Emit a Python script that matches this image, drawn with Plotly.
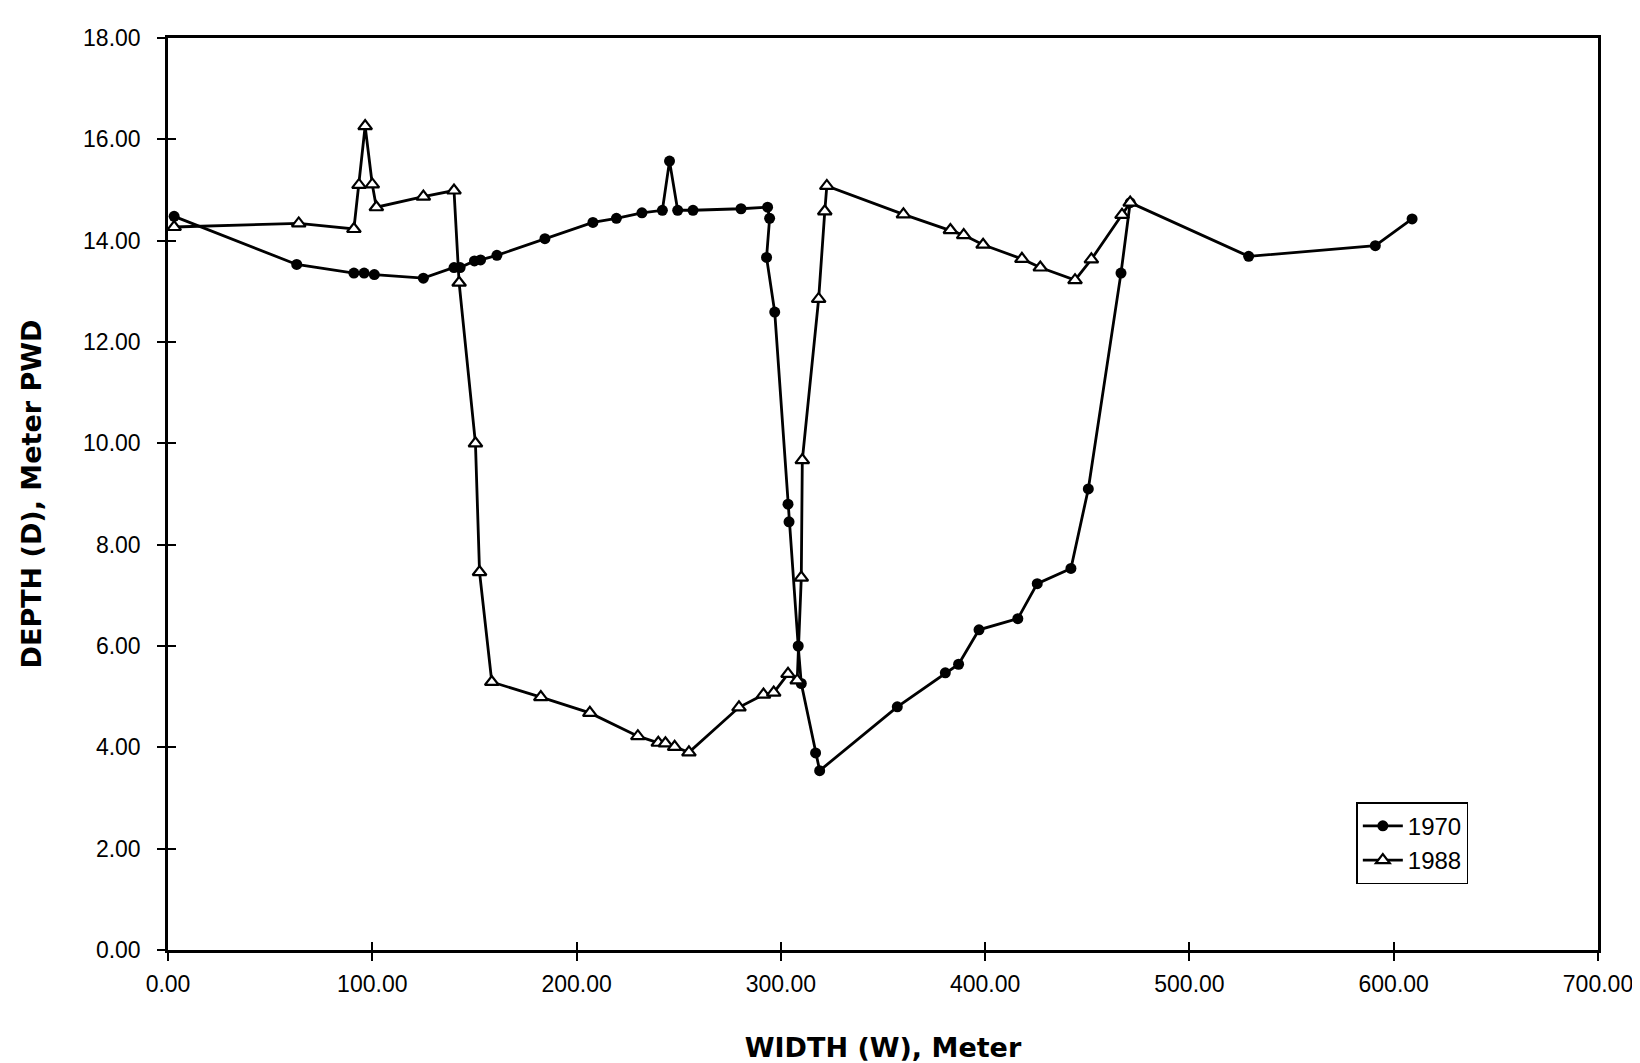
import plotly.graph_objects as go

# ---- data (deskewed) ----
w_1970 = [3, 63, 91, 96, 101, 125, 140, 143, 150, 153, 161, 184.5, 208, 219.5, 232, 242,
          245.5, 249.5, 257, 280.5, 293.5, 294.5, 293, 297, 303.5, 304, 308.5, 310, 317,
          319, 357, 380.5, 387, 397, 416, 425.5, 442, 450.5, 466.5, 471, 529, 591, 609]
d_1970 = [14.48, 13.53, 13.36, 13.36, 13.33, 13.26, 13.47, 13.47, 13.60, 13.62, 13.71,
          14.04, 14.36, 14.44, 14.55, 14.60, 15.57, 14.60, 14.60, 14.63, 14.66, 14.44,
          13.67, 12.59, 8.80, 8.45, 6.00, 5.26, 3.89, 3.54, 4.80, 5.47, 5.64, 6.32, 6.54,
          7.23, 7.53, 9.10, 13.36, 14.75, 13.69, 13.90, 14.43]

w_1988 = [3, 64, 91, 93.5, 96.5, 100, 102, 125, 140, 142.5, 150.5, 152.5, 158.5, 182.5,
          206.5, 230, 240, 243.5, 248, 255, 279.5, 291.5, 296.5, 303.5, 308, 310, 310.5,
          318.5, 321.5, 322.5, 360, 383, 389.5, 399, 418, 427, 444, 452, 467, 471]
d_1988 = [14.27, 14.34, 14.23, 15.10, 16.26, 15.11, 14.66, 14.87, 14.99, 13.17, 10.00,
          7.46, 5.29, 4.99, 4.68, 4.22, 4.09, 4.08, 4.01, 3.90, 4.79, 5.04, 5.08, 5.45,
          5.32, 7.35, 9.67, 12.85, 14.58, 15.08, 14.52, 14.21, 14.11, 13.92, 13.64, 13.47,
          13.22, 13.63, 14.51, 14.75]

x_ticks = [0, 100, 200, 300, 400, 500, 600, 700]
y_ticks = [0, 2, 4, 6, 8, 10, 12, 14, 16, 18]
x_title = "WIDTH (W), Meter"
y_title = "DEPTH (D), Meter PWD"
series_names = ["1970", "1988"]

TICK_FONT = dict(family="Liberation Sans, Arial, sans-serif", size=23, color="black")
TITLE_FONT = dict(family="DejaVu Sans, sans-serif", size=27, color="black", weight="bold")

fig = go.Figure()
fig.add_trace(go.Scatter(
    x=w_1970, y=d_1970, name=series_names[0], mode="lines+markers",
    line=dict(color="black", width=2.8),
    marker=dict(symbol="circle", size=11, color="black"),
))
fig.add_trace(go.Scatter(
    x=w_1988, y=d_1988, name=series_names[1], mode="lines+markers",
    line=dict(color="black", width=2.8),
    marker=dict(symbol="triangle-up", size=12, color="white",
                line=dict(color="black", width=2.2)),
))
# empty trace so the overlay axes (inner halves of the crossing ticks) are drawn
fig.add_trace(go.Scatter(x=[], y=[], xaxis="x2", yaxis="y2", showlegend=False,
                         hoverinfo="skip"))

fig.update_layout(
    width=1640, height=1063,
    margin=dict(l=160, r=50, t=30, b=121),
    paper_bgcolor="white", plot_bgcolor="white",
    showlegend=True,
    legend=dict(x=0.831, y=0.162, xanchor="left", yanchor="top",
                bgcolor="white", bordercolor="black", borderwidth=1.5,
                font=dict(family="Liberation Sans, Arial, sans-serif", size=24, color="black"),
                itemwidth=40, tracegroupgap=4),
    xaxis=dict(range=[0, 700], tickvals=x_ticks, tickformat=".2f",
               ticks="outside", ticklen=8, tickwidth=1.5, tickcolor="black",
               showline=True, linecolor="black", linewidth=2.5, mirror=True,
               showgrid=False, zeroline=False, tickfont=TICK_FONT,
               ticklabelstandoff=4,
               title=dict(text=x_title, font=TITLE_FONT, standoff=42)),
    yaxis=dict(range=[0, 18], tickvals=y_ticks, tickformat=".2f",
               ticks="outside", ticklen=8, tickwidth=1.5, tickcolor="black",
               showline=True, linecolor="black", linewidth=2.5, mirror=True,
               showgrid=False, zeroline=False, tickfont=TICK_FONT,
               ticklabelstandoff=12,
               title=dict(text=y_title, font=TITLE_FONT, standoff=34)),
    xaxis2=dict(range=[0, 700], tickvals=x_ticks, overlaying="x", anchor="y",
                side="bottom", ticks="inside", ticklen=8, tickwidth=1.5,
                tickcolor="black", showticklabels=False, showgrid=False,
                zeroline=False, showline=False),
    yaxis2=dict(range=[0, 18], tickvals=y_ticks, overlaying="y", anchor="x",
                side="left", ticks="inside", ticklen=8, tickwidth=1.5,
                tickcolor="black", showticklabels=False, showgrid=False,
                zeroline=False, showline=False),
)

fig.write_html("out.html")
